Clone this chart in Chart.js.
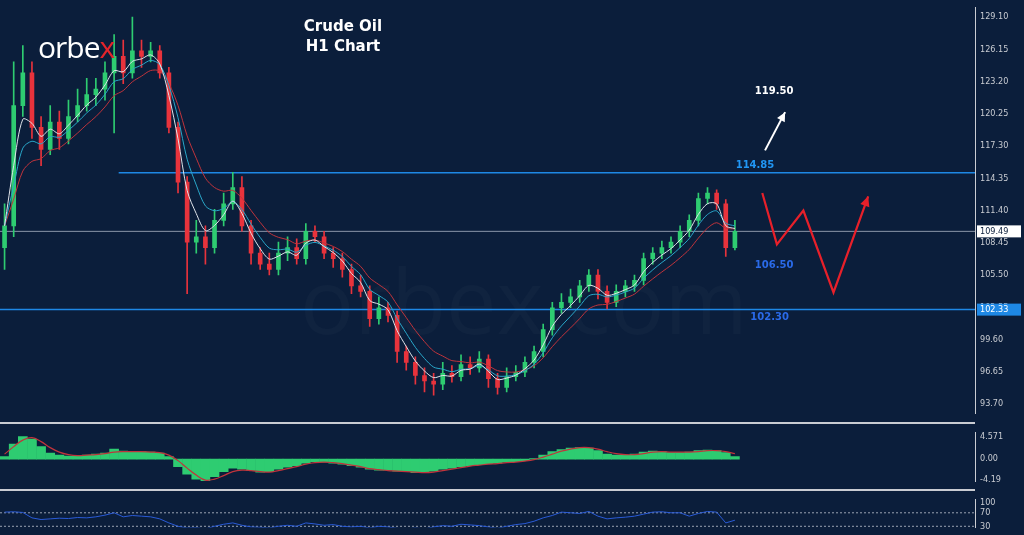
<!DOCTYPE html>
<html>
<head>
<meta charset="utf-8">
<script src="https://cdn.jsdelivr.net/npm/chart.js@4.4.1/dist/chart.umd.min.js"></script>
<style>
  html, body { margin: 0; padding: 0; background: #0b1e3b; overflow: hidden; }
  #wrap { position: relative; width: 1024px; height: 535px; }
  .pane { position: absolute; left: 0; width: 1024px; }
  .sep { position: absolute; left: 0; width: 975px; height: 2px; background: #c9ccd2; }
  #logo { position: absolute; left: 38px; top: 26px; font: 30px "Open Sans", sans-serif; color: #fff; letter-spacing: -1px; }
  #logo span { color: #e3242b; }
  #title { position: absolute; left: 285px; top: 16px; width: 116px; text-align: center;
           font: bold 15px "DejaVu Sans", sans-serif; color: #fff; line-height: 20px; }
  #mark { position: absolute; left: 300px; top: 238px; font: 90px "Open Sans", sans-serif; color: rgba(255,255,255,0.025); }
</style>
</head>
<body>
<div id="wrap">
  <div id="mark">orbex.com</div>
  <div class="pane" style="top:0;height:421px"><canvas id="chMain"></canvas></div>
  <div class="sep" style="top:422px"></div>
  <div class="pane" style="top:425px;height:64px"><canvas id="chMacd"></canvas></div>
  <div class="sep" style="top:489px"></div>
  <div class="pane" style="top:492px;height:43px"><canvas id="chRsi"></canvas></div>
  <div id="logo">orbe<span>x</span></div>
  <div id="title">Crude Oil<br>H1 Chart</div>
</div>
<script>
// candles (H1, compressed)
const closes = [110,121,124,119,117,119.5,118,120,121,122,122.5,124,125.5,124,126,125.5,126,124,119,114,
  108.5,109,108,110.5,112,113.5,110,107.5,106.5,106,107.5,108,107,109.5,109,107.5,107,106,104.5,104,
  101.5,102.5,101.8,98.5,97.5,96.3,95.8,95.5,96.5,96.2,97.3,97,97.8,96,95.2,96.2,96.6,97.5,98.5,100.5,
  102.5,103,103.5,104.5,105.5,104,103,104,104.5,105,107,107.5,108,108.5,109.5,110.5,112.5,113,112,108,109.5];
const opens = [108,110,121,124,119,117,119.5,118,120,121,122,122.5,124,125.5,124,126,125.5,126,124,119,
  114,108.5,109,108,110.5,112,113.5,110,107.5,106.5,106,107.5,108,107,109.5,109,107.5,107,106,104.5,
  104,101.5,102.5,101.8,98.5,97.5,96.3,95.8,95.5,96.5,96.2,97.3,97,97.8,96,95.2,96.2,96.6,97.5,98.5,
  100.5,102.5,103,103.5,104.5,105.5,104,103,104,104.5,105,107,107.5,108,108.5,109.5,110.5,112.5,113,112,108];
const highs = [112,125,126.5,125,120,121,120.5,121.5,122.5,123.5,123.5,125,127.5,127,129.1,127,126.8,126.5,124.5,119.5,
  114.5,110.5,110,111.5,113,114.9,114.5,110.5,108,107.5,108.5,109,108.8,110.2,110,109.5,108,107.5,106.5,105.5,
  104.5,103.5,103,102.2,99,98,97,96.5,97.5,97.2,98.2,98,98.5,98.2,96.5,97,97.2,98,99,101,
  103,103.8,104.2,105,106,106,104.5,104.6,105,105.5,107.5,108,108.6,109,110,111,113,113.5,113.3,112.4,110.5];
const lows = [106,109,120,118,115.5,116.5,117,117.5,119.5,120.5,121,121.5,118.5,123,123.5,124.5,125,123.5,118.5,113,
  103.8,107.5,106.5,107.5,110,111.5,109.5,106.5,106,105.5,105.5,106.8,106.5,106.5,108.5,107,106.2,105.3,103.8,103.5,
  100.8,101,101.2,97.5,96.8,95.5,94.8,94.5,95,95.7,95.8,96.4,96.6,95.2,94.6,94.8,95.8,96.2,97,98,
  100,102,102.5,103,104,103.3,102.4,102.6,103.5,104,104.6,106.5,107,107.5,108,109,110,112,111.5,107.2,107.8];

const priceTicks = [129.10,126.15,123.20,120.25,117.30,114.35,111.40,108.45,105.50,102.55,99.60,96.65,93.70];

// MACD panel
const macdHist = [0.5,3.0,4.5,4.0,2.5,1.2,0.8,0.6,0.7,0.8,1.0,1.2,2.0,1.6,1.5,1.5,1.4,1.2,0.5,-1.5,
  -3.0,-4.0,-4.3,-3.5,-2.5,-1.8,-2.0,-2.3,-2.6,-2.5,-2.0,-1.6,-1.3,-0.8,-0.5,-0.6,-0.8,-1.0,-1.3,-1.6,
  -2.0,-2.2,-2.2,-2.4,-2.5,-2.7,-2.6,-2.4,-2.0,-1.8,-1.5,-1.3,-1.1,-0.9,-0.8,-0.6,-0.5,-0.3,0.1,0.8,
  1.5,1.9,2.2,2.3,2.2,1.7,1.0,0.8,0.8,1.0,1.4,1.6,1.5,1.3,1.3,1.4,1.7,1.8,1.7,1.3,0.5];
const macdSignal = [1.0,2.5,3.8,4.3,3.5,2.3,1.4,0.9,0.7,0.8,0.9,1.1,1.4,1.5,1.5,1.5,1.4,1.3,0.8,-0.3,
  -1.8,-3.2,-4.2,-4.0,-3.3,-2.5,-2.2,-2.3,-2.5,-2.6,-2.3,-1.9,-1.5,-1.0,-0.7,-0.6,-0.7,-0.9,-1.2,-1.5,
  -1.9,-2.1,-2.3,-2.4,-2.5,-2.6,-2.7,-2.6,-2.3,-2.0,-1.7,-1.4,-1.2,-1.0,-0.9,-0.7,-0.6,-0.4,-0.1,0.4,
  1.0,1.6,2.0,2.3,2.3,2.0,1.5,1.1,0.9,0.9,1.1,1.4,1.5,1.4,1.4,1.4,1.5,1.7,1.7,1.5,1.1];

// RSI panel
const rsi = [72,73,71,55,50,52,54,53,56,55,58,63,70,58,62,60,58,52,40,30,
  25,26,22,30,36,40,33,28,27,25,30,33,30,40,37,33,35,30,28,30,
  25,30,28,24,22,25,22,28,32,30,36,34,32,28,24,30,35,38,45,55,
  62,72,70,68,74,60,52,55,57,60,66,72,73,70,70,60,68,74,72,40,48];

// levels / scenario (x in candle index, y in price)
const levels = [{ y: 114.85, from: 12.5, color: '#1e88e5', w: 1.5 },
                { y: 102.33, from: -1, color: '#1e88e5', w: 1.5 },
                { y: 109.49, from: -1, color: '#8a95a8', w: 1 }];
const redPath = [[83.0,113.0],[84.6,108.3],[87.5,111.4],[90.8,103.9],[94.6,112.7]];
const whiteArrow = [[83.3,116.9],[85.5,120.4]];
const notes = [{ t: '119.50', x: 84.3, y: 122.3, c: '#ffffff' },
               { t: '114.85', x: 82.2, y: 115.5, c: '#2196f3' },
               { t: '106.50', x: 84.3, y: 106.4, c: '#2a6ae8' },
               { t: '102.30', x: 83.8, y: 101.6, c: '#2a6ae8' }];

const X_MIN = -0.5, X_MAX = 106.3, AXIS_W = 49;
const axisColor = '#c9ccd2';

function ema(src, n) {
    let k = 2 / (n + 1), out = [], prev = src[0];
    src.forEach((v, i) => { prev = i === 0 ? v : v * k + prev * (1 - k); out.push(prev); });
    return out;
}
const idx = closes.map((_, i) => i);
const pts = arr => arr.map((v, i) => ({ x: i, y: v }));

function xScale() {
    return { type: 'linear', min: X_MIN, max: X_MAX, display: false, offset: false };
}
function yScale(min, max, ticks, fmt) {
    return {
        position: 'right', min: min, max: max,
        afterFit: s => { s.width = AXIS_W; },
        afterBuildTicks: s => { s.ticks = ticks.map(v => ({ value: v })); },
        grid: { display: false, drawTicks: true, tickLength: 3, tickColor: axisColor },
        border: { color: axisColor },
        ticks: { color: axisColor, font: { family: 'DejaVu Sans Condensed, DejaVu Sans', size: 9 }, padding: 2,
                 callback: fmt }
    };
}
const baseOpts = {
    responsive: true, maintainAspectRatio: false, animation: false,
    layout: { padding: 0 },
    plugins: { legend: { display: false }, tooltip: { enabled: false } }
};

function arrowHead(ctx, x0, y0, x1, y1, size) {
    let a = Math.atan2(y1 - y0, x1 - x0);
    ctx.beginPath();
    ctx.moveTo(x1, y1);
    ctx.lineTo(x1 - size * Math.cos(a - 0.45), y1 - size * Math.sin(a - 0.45));
    ctx.lineTo(x1 - size * Math.cos(a + 0.45), y1 - size * Math.sin(a + 0.45));
    ctx.closePath();
    ctx.fill();
}

const overlay = {
    id: 'overlay',
    beforeDatasetsDraw(chart) {
        const { ctx, scales: { x, y } } = chart;
        ctx.save();
        levels.forEach(l => {
            ctx.strokeStyle = l.color; ctx.lineWidth = l.w;
            ctx.beginPath();
            ctx.moveTo(x.getPixelForValue(l.from), y.getPixelForValue(l.y));
            ctx.lineTo(chart.chartArea.right, y.getPixelForValue(l.y));
            ctx.stroke();
        });
        ctx.restore();
    },
    afterDraw(chart) {
        const { ctx, scales: { x, y } } = chart;
        ctx.save();
        // red scenario
        ctx.strokeStyle = '#e8202a'; ctx.fillStyle = '#e8202a'; ctx.lineWidth = 2.2;
        ctx.beginPath();
        redPath.forEach((p, i) => {
            let px = x.getPixelForValue(p[0]), py = y.getPixelForValue(p[1]);
            i ? ctx.lineTo(px, py) : ctx.moveTo(px, py);
        });
        ctx.stroke();
        let a = redPath[redPath.length - 2], b = redPath[redPath.length - 1];
        arrowHead(ctx, x.getPixelForValue(a[0]), y.getPixelForValue(a[1]), x.getPixelForValue(b[0]), y.getPixelForValue(b[1]), 11);
        // white arrow
        ctx.strokeStyle = '#ffffff'; ctx.fillStyle = '#ffffff'; ctx.lineWidth = 2;
        let w0x = x.getPixelForValue(whiteArrow[0][0]), w0y = y.getPixelForValue(whiteArrow[0][1]);
        let w1x = x.getPixelForValue(whiteArrow[1][0]), w1y = y.getPixelForValue(whiteArrow[1][1]);
        ctx.beginPath(); ctx.moveTo(w0x, w0y); ctx.lineTo(w1x, w1y); ctx.stroke();
        arrowHead(ctx, w0x, w0y, w1x, w1y, 10);
        // notes
        ctx.font = 'bold 10px "DejaVu Sans", sans-serif';
        ctx.textAlign = 'center'; ctx.textBaseline = 'middle';
        notes.forEach(n => { ctx.fillStyle = n.c; ctx.fillText(n.t, x.getPixelForValue(n.x), y.getPixelForValue(n.y)); });
        // price tags on axis
        const tags = [{ v: 109.49, bg: '#ffffff', fg: '#0b1e3b' }, { v: 102.33, bg: '#1e88e5', fg: '#ffffff' }];
        ctx.font = '9px "DejaVu Sans Condensed", "DejaVu Sans"'; ctx.textAlign = 'left';
        tags.forEach(t => {
            let py = y.getPixelForValue(t.v);
            ctx.fillStyle = t.bg; ctx.fillRect(chart.chartArea.right + 2, py - 6, 44, 12);
            ctx.fillStyle = t.fg; ctx.fillText(t.v.toFixed(2), chart.chartArea.right + 5, py + 0.5);
        });
        ctx.restore();
    }
};

const up = '#2ecc71', dn = '#e8333c';
const candleCol = closes.map((c, i) => c >= opens[i] ? up : dn);

new Chart(document.getElementById('chMain'), {
    type: 'bar',
    data: {
        datasets: [
            { type: 'line', data: pts(ema(closes, 3)), borderColor: '#e0e4ea', borderWidth: 1, pointRadius: 0, tension: 0.3, order: 0 },
            { type: 'line', data: pts(ema(closes, 5)), borderColor: '#2aa7c9', borderWidth: 1, pointRadius: 0, tension: 0.3, order: 0 },
            { type: 'line', data: pts(ema(closes, 8)), borderColor: '#c0343c', borderWidth: 1, pointRadius: 0, tension: 0.3, order: 0 },
            { data: idx.map(i => ({ x: i, y: [opens[i], closes[i]] })), backgroundColor: candleCol, barThickness: 4, grouped: false, order: 1 },
            { data: idx.map(i => ({ x: i, y: [lows[i], highs[i]] })), backgroundColor: candleCol, barThickness: 1, grouped: false, order: 2 }
        ]
    },
    options: Object.assign({}, baseOpts, {
        scales: {
            x: xScale(),
            y: yScale(92.815, 129.985, priceTicks, v => v.toFixed(2))
        }
    }),
    plugins: [overlay]
});

new Chart(document.getElementById('chMacd'), {
    type: 'bar',
    data: {
        datasets: [
            { type: 'line', data: pts(macdSignal), borderColor: '#c0343c', borderWidth: 1.2, pointRadius: 0, tension: 0.4 },
            { data: pts(macdHist), backgroundColor: '#2ecc71', barPercentage: 1, categoryPercentage: 1, barThickness: 9 }
        ]
    },
    options: Object.assign({}, baseOpts, {
        scales: {
            x: xScale(),
            y: yScale(-4.5, 5.35, [4.571, 0, -4.19], v => v === 0 ? '0.00' : String(v))
        }
    })
});

const dotted = {
    id: 'dotted',
    beforeDatasetsDraw(chart) {
        const { ctx, scales: { y }, chartArea } = chart;
        ctx.save();
        ctx.strokeStyle = '#9aa3b2'; ctx.setLineDash([2, 2]); ctx.lineWidth = 1;
        [70, 30].forEach(v => {
            ctx.beginPath(); ctx.moveTo(chartArea.left, y.getPixelForValue(v)); ctx.lineTo(chartArea.right, y.getPixelForValue(v)); ctx.stroke();
        });
        ctx.restore();
    }
};

new Chart(document.getElementById('chRsi'), {
    type: 'line',
    data: { datasets: [{ data: pts(rsi), borderColor: '#2a5bd7', borderWidth: 1, pointRadius: 0 }] },
    options: Object.assign({}, baseOpts, {
        scales: {
            x: xScale(),
            y: yScale(26.1, 109.7, [100, 70, 30], v => String(v))
        }
    }),
    plugins: [dotted]
});
</script>
</body>
</html>
